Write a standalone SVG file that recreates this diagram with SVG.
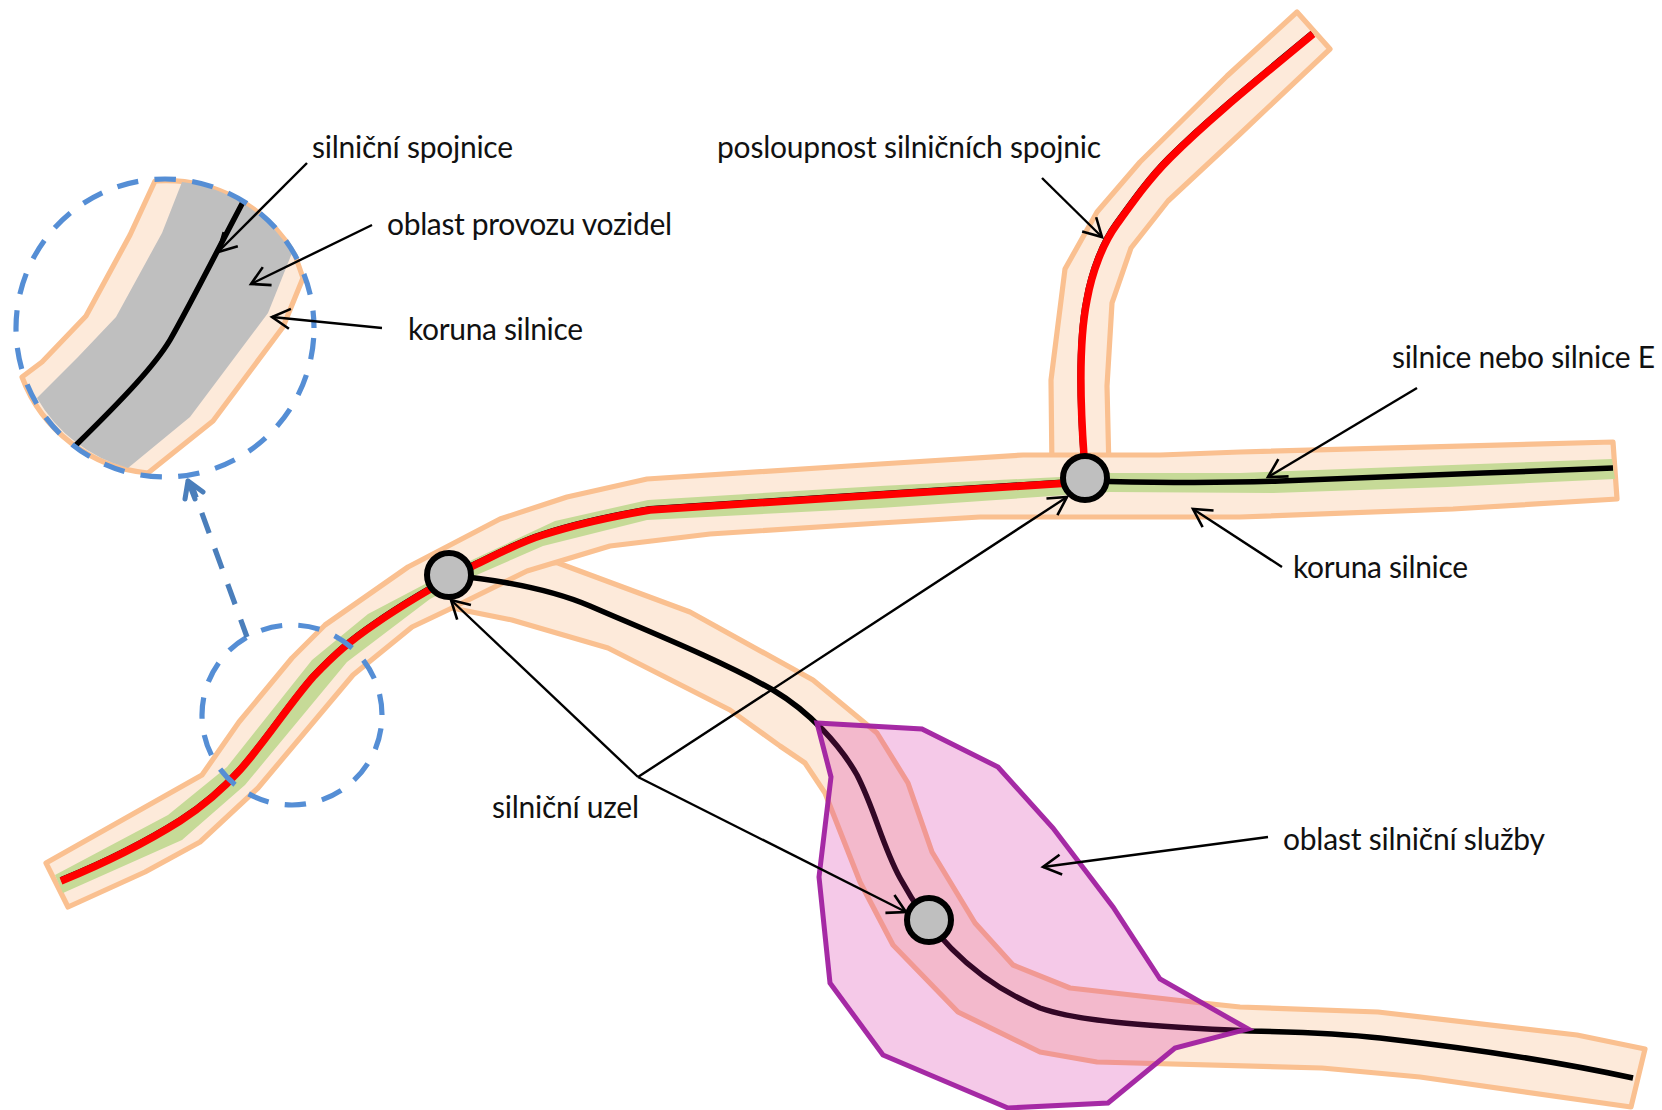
<svg xmlns="http://www.w3.org/2000/svg" width="1662" height="1110" viewBox="0 0 1662 1110">
<style>
.road{fill:#fdeada;stroke:#fac090;stroke-width:5.2;stroke-linejoin:round}
.green{fill:#c6da97;stroke:none}
.blk{fill:none;stroke:#000;stroke-width:5.5}
.red{fill:none;stroke:#f00;stroke-width:7.5}
.node{fill:#bfbfbf;stroke:#000;stroke-width:6}
.dash{fill:none;stroke:#558ed5;stroke-width:5.2;stroke-dasharray:21.5 16.35}
.call{fill:none;stroke:#000;stroke-width:2.4;marker-end:url(#open)}
text{font-family:Lato,"Open Sans","Liberation Sans",sans-serif;font-size:30px;fill:#111}
</style>
<defs>
<marker id="open" markerUnits="userSpaceOnUse" markerWidth="26" markerHeight="26" refX="21" refY="13" orient="auto" overflow="visible">
<path d="M3,3 L21,13 L3,23" fill="none" stroke="#000" stroke-width="2.6"/>
</marker>
<path id="mainred" d="M61,881 C100,865 145,843 180,821 C205,805 222,790 240,770 C265,742 290,703 313,677 C335,654 350,641 375,624 C395,610 435,585 473,566 C500,553 520,542 543,535 C580,523 615,516 650,510 L880,495 L1085,482"/>
<path id="upred" d="M1084,456 C1080,400 1079,340 1087,300 C1092,272 1103,243 1117,224 C1135,199 1150,178 1170,158 C1210,118 1260,78 1313,34"/>
</defs>

<g id="inset">
<path class="road" d="M155,181 L130,235 L86,316 L42,362 L22,377 A149,149 0 0 0 148,473 L213,421 L283,327 L303,278 L295,255 A149,149 0 0 0 155,181 Z"/>
<path d="M182,182 L162,233 L116,317 L78,357 L37,398 A149,149 0 0 0 128,468 L190,417 L268,313 L292,253 A149,149 0 0 0 182,182 Z" fill="#bfbfbf"/>
<path class="blk" d="M243,202 C215,255 190,305 170,340 C155,365 125,397 75,446"/>
<circle class="dash" cx="165" cy="328" r="149" stroke-dashoffset="-10"/>
</g>

<g id="road-lower">
<path class="road" d="M452,608 L512,620 L608,648 L730,710 L780,746 L805,763 L825,793 L860,882 L893,945 L958,1012 L1040,1052 L1097,1062 L1322,1068 L1420,1077 L1631,1107 L1645,1049 L1577,1035 L1378,1012 L1240,1007 L1193,1002 L1070,988 L1013,965 L975,923 L932,852 L908,783 L877,733 L813,680 L690,612 L558,563 L500,560 Z"/>
</g>
<g id="road-upper">
<path class="road" d="M1052,470 L1051,380 L1065,269 L1097,212 L1140,162 L1227,76 L1297,12 L1330,49 L1240,134 L1168,201 L1131,248 L1112,303 L1107,386 L1109,470 Z"/>
</g>
<g id="road-main">
<path class="road" d="M46,863 L202,775 L239,722 L292,658 L325,625 L408,567 L500,519 L567,497 L647,479 L880,464 L1023,455 L1160,455 L1240,452 L1613,442 L1617,499 L1453,509 L1240,517 L980,517 L880,523 L710,534 L610,546 L527,571 L452,608 L412,627 L353,675 L258,788 L200,842 L145,872 L68,907 Z"/>
<path class="green" d="M55,875 L168,815 L227,767 L312,660 L368,614 L427,583 L472,560 L555,521 L648,500 L880,486 L1060,477 L1110,473 L1240,473 L1612,459 L1615,479 L1447,487 L1273,493 L1110,492 L880,508 L647,520 L543,546 L472,577 L430,599 L347,662 L245,785 L182,840 L63,893 Z"/>
</g>

<g id="links">
<use href="#mainred" class="blk" transform="translate(0,-1.2)"/>
<use href="#mainred" class="red"/>
<use href="#upred" class="blk" transform="translate(-0.8,-0.8)"/>
<use href="#upred" class="red"/>
<path class="blk" d="M1085,481 C1140,482 1200,484 1280,481 C1400,477 1500,472 1613,468"/>
<path class="blk" d="M449,575 C500,580 548,588 590,606 C650,632 720,660 773,690 C810,712 840,745 857,775 C875,810 882,845 900,878 C920,915 960,975 1040,1008 C1080,1022 1160,1027 1250,1031 C1300,1032 1345,1034 1380,1038 C1450,1046 1540,1058 1633,1078"/>
</g>

<g id="service-area">
<path d="M817,723 L922,729 L998,767 L1053,828 L1113,907 L1160,979 L1248,1029 L1175,1048 L1108,1103 L1008,1108 L883,1055 L830,983 L819,877 L831,777 Z" fill="#d51e9f" fill-opacity=".24" stroke="#a020a0" stroke-opacity=".95" stroke-width="5" stroke-linejoin="miter"/>
</g>

<g id="zoom-circle">
<circle class="dash" cx="292" cy="715" r="90" stroke-dashoffset="-13.5"/>
</g>

<g id="nodes">
<circle id="node-1" class="node" cx="449" cy="575" r="22"/>
<circle id="node-2" class="node" cx="1085" cy="478" r="22"/>
<circle id="node-3" class="node" cx="929" cy="920" r="22"/>
</g>

<g id="connectors">
<path class="dash" d="M247,637 L192,486" style="stroke:#4a7ebb" stroke-dashoffset="3"/>
<path d="M188,481 L185,499 M188,481 L195,499 M188,481 L203,492" fill="none" stroke="#4a7ebb" stroke-width="5" stroke-linecap="round"/>
<path class="call" d="M307,163 L218,252"/>
<path class="call" d="M372,225 L251,284"/>
<path class="call" d="M382,328 L272,317"/>
<path class="call" d="M1042,178 L1102,237"/>
<path class="call" d="M1417,388 L1268,477"/>
<path class="call" d="M1282,567 L1193,509"/>
<path class="call" d="M638,777 L451,600"/>
<path class="call" d="M638,777 L1067,497"/>
<path class="call" d="M638,777 L906,912"/>
<path class="call" d="M1268,837 L1043,867"/>
</g>

<g id="labels">
<text x="312" y="158" textLength="201" lengthAdjust="spacing">silniční spojnice</text>
<text x="387" y="235" textLength="285" lengthAdjust="spacing">oblast provozu vozidel</text>
<text x="408" y="340" textLength="175" lengthAdjust="spacing">koruna silnice</text>
<text x="717" y="158" textLength="384" lengthAdjust="spacing">posloupnost silničních spojnic</text>
<text x="1392" y="368" textLength="263" lengthAdjust="spacing">silnice nebo silnice E</text>
<text x="1293" y="578" textLength="175" lengthAdjust="spacing">koruna silnice</text>
<text x="492" y="818" textLength="147" lengthAdjust="spacing">silniční uzel</text>
<text x="1283" y="850" textLength="262" lengthAdjust="spacing">oblast silniční služby</text>
</g>
</svg>
